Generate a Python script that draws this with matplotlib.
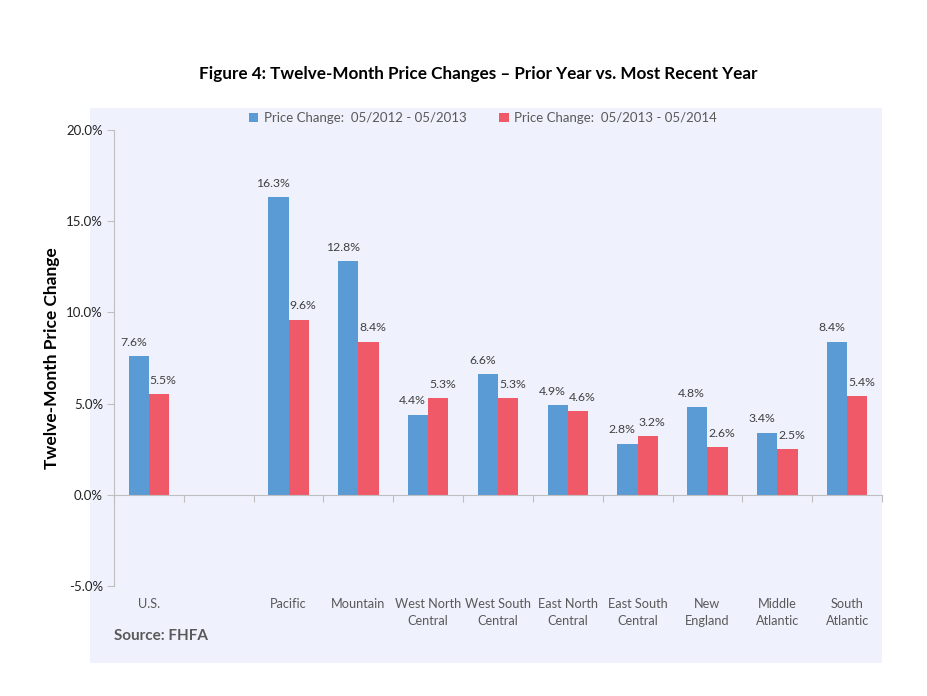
import numpy as np
import matplotlib
matplotlib.use("Agg")
import matplotlib.pyplot as plt
from matplotlib.transforms import offset_copy

plt.rcParams['font.family'] = ['Lato', 'DejaVu Sans']

categories = ["U.S.", "", "Pacific", "Mountain", "West North\nCentral", "West South\nCentral",
              "East North\nCentral", "East South\nCentral", "New\nEngland", "Middle\nAtlantic",
              "South\nAtlantic"]
prior_year = [7.6, np.nan, 16.3, 12.8, 4.4, 6.6, 4.9, 2.8, 4.8, 3.4, 8.4]
recent_year = [5.5, np.nan, 9.6, 8.4, 5.3, 5.3, 4.6, 3.2, 2.6, 2.5, 5.4]
series_names = ["Price Change:  05/2012 - 05/2013", "Price Change:  05/2013 - 05/2014"]
yticks = [-5.0, 0.0, 5.0, 10.0, 15.0, 20.0]

blue = "#5B9BD5"
red = "#F05A68"
panel = "#EFF2FC"
gray_text = "#595959"

W, H = 927, 696
fig = plt.figure(figsize=(W / 100, H / 100), dpi=100)
fig.patch.set_facecolor("white")

bg = fig.add_axes([90 / W, 1 - 663 / H, (882 - 90) / W, (663 - 108) / H], zorder=0)
bg.set_facecolor(panel)
bg.set_xticks([]); bg.set_yticks([])
for s in bg.spines.values():
    s.set_visible(False)

ax = fig.add_axes([114 / W, 1 - 586 / H, (882 - 114) / W, (586 - 130) / H], zorder=1)
ax.set_facecolor("none")

x = np.arange(len(categories))
bw = 0.29
b1 = ax.bar(x - bw / 2, prior_year, bw, color=blue, label=series_names[0], zorder=2)
b2 = ax.bar(x + bw / 2, recent_year, bw, color=red, label=series_names[1], zorder=2)

def lbls(vals):
    return ["" if np.isnan(v) else f"{v:.1f}%" for v in vals]

ann1 = ax.bar_label(b1, labels=lbls(prior_year), padding=6, fontsize=8.8, color="#404040")
ann2 = ax.bar_label(b2, labels=lbls(recent_year), padding=6, fontsize=8.8, color="#404040")
for a in ann1:
    a.xyann = (-4, 6)
for a in ann2:
    a.xyann = (3, 6)

ax.set_xlim(-0.5, len(categories) - 0.5)
ax.set_ylim(-5, 20)
ax.set_yticks(yticks)
ax.set_yticklabels([f"{t:.1f}%" for t in yticks], fontsize=9.5, color="#222222")
ax.tick_params(axis="y", length=5, color="#BFBFBF", pad=3)

for s in ["top", "right"]:
    ax.spines[s].set_visible(False)
ax.spines["left"].set_color("#BFBFBF")
ax.spines["bottom"].set_color("#BFBFBF")
ax.spines["bottom"].set_position(("data", 0))

ax.set_xticks(np.arange(-0.5, len(categories), 1.0))
ax.set_xticklabels([])
ax.tick_params(axis="x", length=5, color="#BFBFBF", direction="out")

for xi, c in zip(x, categories):
    t = offset_copy(ax.transData, fig=fig, x=0, y=-12, units="dots")
    ax.text(xi, -5.0, c, ha="center", va="top", fontsize=9.2, color=gray_text,
            transform=t, linespacing=1.5)

ax.set_ylabel("Twelve-Month Price Change", fontsize=12.5, fontweight="bold", color="black", labelpad=4)

fig.text(478 / W, 1 - 74 / H, "Figure 4: Twelve-Month Price Changes \u2013 Prior Year vs. Most Recent Year",
         ha="center", va="center", fontsize=12.3, fontweight="bold", color="black")
fig.text(114 / W, 1 - 636 / H, "Source: FHFA", ha="left", va="center", fontsize=11,
         fontweight="bold", color=gray_text)

fig.legend(handles=[b1, b2], loc="center", bbox_to_anchor=(483 / W, 1 - 118 / H), ncol=2,
           frameon=False, fontsize=9.5, handlelength=0.7, handleheight=0.7, columnspacing=2.5,
           handletextpad=0.4, labelcolor=gray_text)

fig.savefig("out.png", dpi=100)
